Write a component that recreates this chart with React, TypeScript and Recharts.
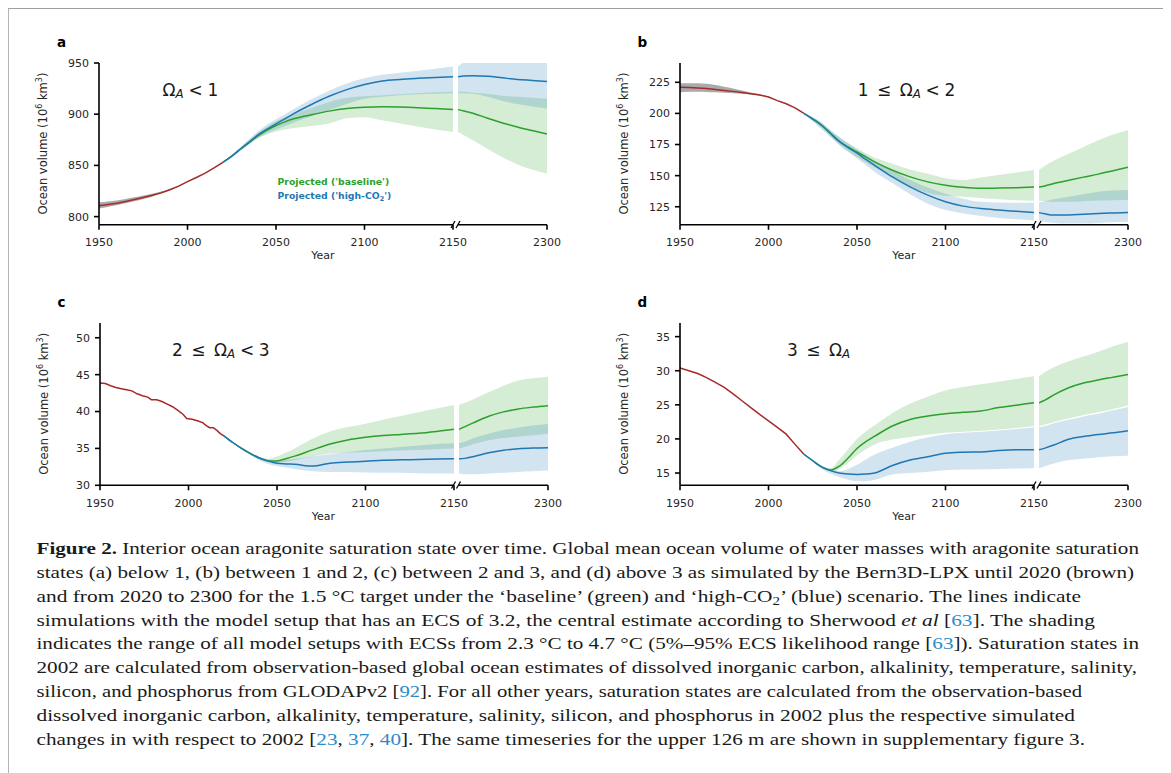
import React from 'react';
import { ComposedChart, Line, Area, XAxis, YAxis } from 'recharts';

// ---------- DATA ----------
const HIST_YEARS = [1950, 1955, 1960, 1965, 1970, 1975, 1980, 1985, 1990, 1995, 2000, 2005, 2010, 2015, 2020];
const C_HIST_YEARS = [1950, 1953, 1956, 1959, 1962, 1965, 1968, 1971, 1974, 1977, 1979, 1982, 1985, 1988, 1991, 1994, 1997, 1999, 2002, 2005, 2008, 2010, 2012, 2014, 2016, 2018, 2020];
const PROJ_YEARS = [2020, 2025, 2030, 2035, 2040, 2045, 2050, 2055, 2060, 2070, 2080, 2090, 2100, 2110, 2120, 2130, 2140, 2150, 2160, 2175, 2200, 2225, 2250, 2275, 2300];

const X_TICKS_LEFT = [1950, 2000, 2050, 2100, 2150];
const X_TICKS_RIGHT = [2300];

// panel a : Omega_A < 1
const A_HIST = [810.7, 811.8, 813.0, 814.8, 816.7, 818.7, 820.8, 823.2, 826.2, 829.8, 834.2, 838.2, 842.5, 847.5, 853.0];
const A_HIST_LO = [808.0, 809.5, 811.0, 813.0, 815.0, 817.2, 819.5, 822.3, 825.5, 829.3, 834.0, 838.2, 842.5, 847.5, 853.0];
const A_HIST_HI = [814.0, 814.8, 815.8, 817.2, 818.8, 820.5, 822.3, 824.4, 827.0, 830.3, 834.4, 838.2, 842.5, 847.5, 853.0];
const A_BASE = [853, 859, 866, 872.5, 879, 884.5, 889, 892.5, 895.5, 899.5, 903, 905.5, 906.8, 907.2, 907, 906.4, 905.5, 904.5, 903.2, 901, 896, 891.5, 887.5, 884, 880.7];
const A_BASE_LO = [853, 858, 864.5, 871, 876.5, 880.5, 883, 885, 886.5, 888.5, 891, 896, 897, 894, 891, 888, 885, 882.5, 879.5, 874.5, 866, 858, 851, 846, 842];
const A_BASE_HI = [853, 860, 867.5, 875, 882, 888, 893, 897, 900, 906, 912, 916, 917.5, 918.5, 919.5, 920.5, 921.5, 922, 922, 921, 920, 918, 917, 916, 915];
const A_HIGH = [853, 859, 866, 873, 880, 885.5, 890.5, 895.5, 900.5, 909.5, 917.5, 924, 929, 932.5, 934, 935, 935.8, 936.5, 937.3, 937.5, 937, 935.5, 934, 933, 932];
const A_HIGH_LO = [853, 858, 864.5, 871, 877, 881.5, 885, 888.5, 892, 898, 904, 910, 915, 917, 918.5, 919.5, 920, 920.5, 920.5, 920, 917, 913, 910, 907.5, 905.5];
const A_HIGH_HI = [853, 860.5, 868, 876, 883.5, 890, 895, 900, 905, 914.5, 923, 930, 935, 938.5, 940.5, 942.5, 944.5, 946.5, 950, 950, 950, 950, 950, 950, 950];
const A_Y_TICKS = [800, 850, 900, 950];

// panel b : 1 <= Omega_A < 2
const B_HIST = [221.0, 220.8, 220.5, 220.0, 219.3, 218.5, 217.7, 216.8, 215.8, 214.8, 213.2, 210.3, 207.8, 204.5, 200.0];
const B_HIST_LO = [217.0, 217.3, 217.4, 217.2, 216.9, 216.6, 216.2, 215.7, 215.1, 214.3, 213.0, 210.3, 207.8, 204.5, 200.0];
const B_HIST_HI = [224.2, 224.2, 224.2, 223.8, 222.8, 221.4, 220.0, 218.4, 216.8, 215.4, 213.5, 210.3, 207.8, 204.5, 200.0];
const B_BASE = [200, 195.5, 190.5, 184, 177.5, 173, 169, 165, 161, 154.3, 149, 145, 142.3, 140.6, 139.8, 140, 140.3, 140.8, 141.7, 143.7, 146.3, 148.8, 151.2, 154, 156.8];
const B_BASE_LO = [200, 194, 188, 181.5, 175, 169.5, 165, 160.5, 156.5, 149.5, 141.5, 136, 133.8, 133, 132, 131, 130.2, 129.8, 129.5, 129, 129, 129.5, 130, 130.3, 130.5];
const B_BASE_HI = [200, 197, 192.5, 186.5, 181, 176, 172, 168, 164.5, 159.5, 155, 151.5, 148, 146.5, 148.5, 150.5, 152.5, 154.5, 158, 162, 167.5, 173, 178.5, 183, 186.5];
const B_HIGH = [200, 195.5, 190.5, 184, 177.5, 172.5, 168, 163, 158.3, 149, 141, 134.3, 129, 125.5, 123.5, 122.3, 121.3, 120.3, 119.3, 118.3, 118.4, 119, 119.6, 120, 120.3];
const B_HIGH_LO = [200, 193.5, 187.5, 181, 174.5, 169, 164, 158.5, 153, 144, 135, 127.5, 122.5, 119.5, 117.5, 116, 115, 114, 113, 112, 111.5, 111.5, 112, 112.5, 113];
const B_HIGH_HI = [200, 197, 192.5, 186.5, 181, 176, 171, 166.5, 162, 154, 146.5, 140.5, 135.5, 131.5, 129, 128.5, 128.3, 128.5, 129.5, 131, 133, 135, 137, 138, 138.5];
const B_Y_TICKS = [125, 150, 175, 200, 225];

// panel c : 2 <= Omega_A < 3
const C_HIST = [43.86, 43.8, 43.5, 43.25, 43.1, 42.95, 42.8, 42.4, 42.15, 41.95, 41.6, 41.6, 41.35, 41.0, 40.65, 40.15, 39.6, 39.05, 38.95, 38.75, 38.5, 38.1, 37.8, 37.8, 37.45, 37.0, 36.7];
const C_BASE = [36.7, 35.8, 35.0, 34.3, 33.7, 33.3, 33.3, 33.6, 33.95, 34.8, 35.6, 36.15, 36.5, 36.75, 36.9, 37.05, 37.3, 37.6, 37.95, 38.5, 39.35, 39.95, 40.35, 40.6, 40.8];
const C_BASE_LO = [36.7, 35.75, 34.9, 34.2, 33.5, 33.2, 33.1, 33.2, 33.4, 33.9, 34.3, 34.45, 34.5, 34.6, 34.7, 34.8, 34.9, 35.0, 35.2, 35.6, 36.1, 36.4, 36.6, 36.8, 37.0];
const C_BASE_HI = [36.7, 35.85, 35.1, 34.4, 33.8, 33.6, 33.9, 34.4, 35.0, 36.3, 37.3, 37.9, 38.35, 38.9, 39.4, 39.9, 40.4, 40.9, 41.2, 41.7, 42.6, 43.5, 44.2, 44.5, 44.7];
const C_HIGH = [36.7, 35.8, 35.0, 34.3, 33.7, 33.3, 33.0, 32.9, 32.85, 32.6, 33.0, 33.15, 33.25, 33.4, 33.45, 33.5, 33.55, 33.6, 33.65, 33.9, 34.4, 34.75, 34.95, 35.05, 35.1];
const C_HIGH_LO = [36.7, 35.75, 34.9, 34.1, 33.4, 32.9, 32.6, 32.4, 32.2, 31.9, 31.8, 31.8, 31.75, 31.7, 31.7, 31.65, 31.6, 31.6, 31.5, 31.5, 31.6, 31.7, 31.8, 31.9, 32.0];
const C_HIGH_HI = [36.7, 35.85, 35.1, 34.4, 33.8, 33.5, 33.4, 33.5, 33.6, 33.9, 34.2, 34.5, 34.8, 35.0, 35.2, 35.4, 35.6, 35.7, 35.9, 36.4, 37.0, 37.5, 37.8, 38.1, 38.3];
const C_Y_TICKS = [30, 35, 40, 45, 50];

// panel d : 3 <= Omega_A
const D_HIST = [30.4, 30.0, 29.6, 29.0, 28.3, 27.55, 26.6, 25.6, 24.6, 23.6, 22.65, 21.7, 20.7, 19.2, 17.75];
const D_BASE = [17.75, 16.8, 15.9, 15.45, 16.0, 17.2, 18.6, 19.6, 20.4, 21.9, 22.85, 23.35, 23.7, 23.9, 24.1, 24.6, 24.95, 25.3, 25.7, 26.45, 27.5, 28.2, 28.65, 29.05, 29.45];
const D_BASE_LO = [17.75, 16.75, 15.8, 15.2, 15.6, 16.5, 17.6, 18.5, 19.2, 19.9, 20.3, 20.6, 20.9, 21.05, 21.2, 21.4, 21.6, 21.9, 22.1, 22.5, 23.0, 23.5, 23.9, 24.4, 24.9];
const D_BASE_HI = [17.75, 16.85, 16.0, 15.7, 17.0, 18.5, 20.0, 21.1, 22.0, 23.8, 25.2, 26.2, 27.1, 27.6, 28.0, 28.4, 28.8, 29.2, 29.8, 30.5, 31.4, 32.1, 32.8, 33.6, 34.2];
const D_HIGH = [17.75, 16.8, 15.9, 15.35, 15.0, 14.85, 14.8, 14.85, 15.0, 16.1, 16.9, 17.4, 17.9, 18.05, 18.1, 18.3, 18.4, 18.4, 18.65, 19.1, 19.95, 20.35, 20.65, 20.9, 21.2];
const D_HIGH_LO = [17.75, 16.7, 15.6, 14.9, 14.4, 14.0, 13.8, 13.8, 14.0, 14.8, 15.0, 15.2, 15.4, 15.5, 15.55, 15.6, 15.65, 15.7, 16.0, 16.4, 16.9, 17.1, 17.3, 17.45, 17.55];
const D_HIGH_HI = [17.75, 16.9, 16.0, 15.6, 15.3, 15.6, 16.2, 17.0, 17.7, 18.7, 19.6, 20.2, 20.7, 20.9, 21.05, 21.25, 21.45, 21.7, 21.9, 22.3, 22.8, 23.3, 23.7, 24.2, 24.7];
const D_Y_TICKS = [15, 20, 25, 30, 35];

// ---------- STYLE ----------
const C_HISTC = '#a52a2a';
const C_GREEN = '#2ca02c';
const C_BLUE = '#1f77b4';
const AXIS_STYLE = { stroke: '#000', strokeWidth: 1.6 };
const TICK_STYLE = { fontSize: 11, fontFamily: 'DejaVu Sans', fill: '#262626' };
const LEFT_W = 354;
const GAP = 5;
const RIGHT_W = 89;
const BREAK = 2150;

type Row = { year: number; v: number; band?: [number, number] };
const mk = (years: number[], v: number[], lo?: number[], hi?: number[]): Row[] =>
  years.map((year, i) => ({ year, v: v[i], band: lo && hi ? [lo[i], hi[i]] as [number, number] : undefined }));

type PanelDef = {
  letter: string;
  plotLeft: number;
  plotTop: number;
  plotBottom: number;
  yDomain: [number, number];
  yTicks: number[];
  hist: Row[];
  histBand: boolean;
  base: Row[];
  high: Row[];
};

const PANELS: PanelDef[] = [
  {
    letter: 'a', plotLeft: 99, plotTop: 62.7, plotBottom: 224.5, yDomain: [792, 950], yTicks: A_Y_TICKS,
    hist: mk(HIST_YEARS, A_HIST, A_HIST_LO, A_HIST_HI), histBand: true,
    base: mk(PROJ_YEARS, A_BASE, A_BASE_LO, A_BASE_HI), high: mk(PROJ_YEARS, A_HIGH, A_HIGH_LO, A_HIGH_HI),
  },
  {
    letter: 'b', plotLeft: 680, plotTop: 62.7, plotBottom: 224.5, yDomain: [110.5, 240.5], yTicks: B_Y_TICKS,
    hist: mk(HIST_YEARS, B_HIST, B_HIST_LO, B_HIST_HI), histBand: true,
    base: mk(PROJ_YEARS, B_BASE, B_BASE_LO, B_BASE_HI), high: mk(PROJ_YEARS, B_HIGH, B_HIGH_LO, B_HIGH_HI),
  },
  {
    letter: 'c', plotLeft: 99.5, plotTop: 322.7, plotBottom: 485, yDomain: [30, 52], yTicks: C_Y_TICKS,
    hist: mk(C_HIST_YEARS, C_HIST), histBand: false,
    base: mk(PROJ_YEARS, C_BASE, C_BASE_LO, C_BASE_HI), high: mk(PROJ_YEARS, C_HIGH, C_HIGH_LO, C_HIGH_HI),
  },
  {
    letter: 'd', plotLeft: 680, plotTop: 322.7, plotBottom: 485, yDomain: [13.2, 37], yTicks: D_Y_TICKS,
    hist: mk(HIST_YEARS, D_HIST), histBand: false,
    base: mk(PROJ_YEARS, D_BASE, D_BASE_LO, D_BASE_HI), high: mk(PROJ_YEARS, D_HIGH, D_HIGH_LO, D_HIGH_HI),
  },
];

type SegProps = {
  left: number; top: number; plotW: number; plotH: number;
  xDomain: [number, number]; xTicks: number[];
  yDomain: [number, number]; yTicks: number[];
  withY: boolean; hist: Row[]; histBand: boolean; base: Row[]; high: Row[];
};

function Seg(p: SegProps) {
  const YW = p.withY ? 52 : 0;
  const LM = p.withY ? 0 : 2;
  const TM = 8;
  const XH = 40;
  const RM = 24;
  const W = LM + YW + p.plotW + RM;
  const H = TM + p.plotH + XH;
  return (
    <div style={{ position: 'absolute', left: p.left - YW - LM - 8, top: p.top - TM - 8, width: W, height: H }}>
      <ComposedChart width={W} height={H} margin={{ top: TM, right: RM, bottom: 0, left: LM }}>
        <XAxis type="number" dataKey="year" domain={p.xDomain} ticks={p.xTicks} interval={0} allowDataOverflow
          height={XH} tickSize={5} tickMargin={8.5} axisLine={AXIS_STYLE} tickLine={AXIS_STYLE} tick={TICK_STYLE} />
        <YAxis type="number" domain={p.yDomain} ticks={p.yTicks} interval={0} allowDataOverflow width={YW}
          hide={!p.withY} tickSize={5} tickMargin={5} axisLine={AXIS_STYLE} tickLine={AXIS_STYLE} tick={TICK_STYLE} />
        {p.histBand && p.hist.length > 0 && (
          <Area data={p.hist} dataKey="band" type="monotone" stroke="none" fill="#555" fillOpacity={0.5} isAnimationActive={false} />
        )}
        {p.base.length > 0 && (
          <Area data={p.base} dataKey="band" type="monotone" stroke="none" fill={C_GREEN} fillOpacity={0.2} isAnimationActive={false} />
        )}
        {p.high.length > 0 && (
          <Area data={p.high} dataKey="band" type="monotone" stroke="none" fill={C_BLUE} fillOpacity={0.2} isAnimationActive={false} />
        )}
        {p.hist.length > 0 && (
          <Line data={p.hist} dataKey="v" type="linear" stroke={C_HISTC} strokeWidth={1.5} dot={false} activeDot={false} isAnimationActive={false} />
        )}
        {p.base.length > 0 && (
          <Line data={p.base} dataKey="v" type="monotone" stroke={C_GREEN} strokeWidth={1.5} dot={false} activeDot={false} isAnimationActive={false} />
        )}
        {p.high.length > 0 && (
          <Line data={p.high} dataKey="v" type="monotone" stroke={C_BLUE} strokeWidth={1.5} dot={false} activeDot={false} isAnimationActive={false} />
        )}
      </ComposedChart>
    </div>
  );
}

function PanelCharts({ d }: { d: PanelDef }) {
  const plotH = d.plotBottom - d.plotTop;
  const leftRows = (rows: Row[]) => rows.filter((r) => r.year <= BREAK);
  const rightRows = (rows: Row[]) => rows.filter((r) => r.year >= BREAK);
  return (
    <>
      <Seg left={d.plotLeft} top={d.plotTop} plotW={LEFT_W} plotH={plotH} xDomain={[1950, 2150]} xTicks={X_TICKS_LEFT}
        yDomain={d.yDomain} yTicks={d.yTicks} withY hist={leftRows(d.hist)} histBand={d.histBand}
        base={leftRows(d.base)} high={leftRows(d.high)} />
      <Seg left={d.plotLeft + LEFT_W + GAP} top={d.plotTop} plotW={RIGHT_W} plotH={plotH} xDomain={[2150, 2300]} xTicks={X_TICKS_RIGHT}
        yDomain={d.yDomain} yTicks={d.yTicks} withY={false} hist={rightRows(d.hist)} histBand={d.histBand}
        base={rightRows(d.base)} high={rightRows(d.high)} />
    </>
  );
}

const MATH_FONT = { fontFamily: 'DejaVu Sans', fontSize: 17, fill: '#1a1a1a' };
const LINK = '#2b8ccc';

function Overlay() {
  const ylabel = (bx: number, cy: number) => (
    <text transform={`translate(${bx},${cy}) rotate(-90)`} textAnchor="middle" fontFamily="DejaVu Sans" fontSize={11.5} fill="#262626">
      Ocean volume (10<tspan fontSize={8} dy={-4.2}>6</tspan><tspan dy={4.2}> km</tspan><tspan fontSize={8} dy={-4.2}>3</tspan><tspan dy={4.2}>)</tspan>
    </text>
  );
  const breakMarks = (d: PanelDef) => {
    const xs = [d.plotLeft + LEFT_W, d.plotLeft + LEFT_W + GAP];
    return xs.map((x, i) => (
      <line key={d.letter + i} x1={x - 2} y1={d.plotBottom + 3.5} x2={x + 2} y2={d.plotBottom - 3.5} stroke="#000" strokeWidth={1.3} />
    ));
  };
  const year = (d: PanelDef) => (
    <text x={(d.plotLeft + d.plotLeft + LEFT_W + GAP + RIGHT_W) / 2} y={d.plotBottom + 34.5} textAnchor="middle" fontFamily="DejaVu Sans" fontSize={11} fill="#262626">Year</text>
  );
  const sub = (s: string) => <tspan fontStyle="italic" fontSize={11.9} dy={2.5}>{s}</tspan>;
  const capX = 36.5;
  const capY0 = 554;
  const capDY = 23.85;
  const capEnds = [1139, 1134, 1081, 1095, 1139, 1137, 1082, 1075, 1085];
  const capLines: React.ReactNode[] = [
    <><tspan fontWeight="bold">Figure 2.</tspan>{' Interior ocean aragonite saturation state over time. Global mean ocean volume of water masses with aragonite saturation'}</>,
    <>{'states (a) below 1, (b) between 1 and 2, (c) between 2 and 3, and (d) above 3 as simulated by the Bern3D-LPX until 2020 (brown)'}</>,
    <>{'and from 2020 to 2300 for the 1.5 °C target under the ‘baseline’ (green) and ‘high-CO'}<tspan fontSize={12} dy={3}>2</tspan><tspan dy={-3}>{'’ (blue) scenario. The lines indicate'}</tspan></>,
    <>{'simulations with the model setup that has an ECS of 3.2, the central estimate according to Sherwood '}<tspan fontStyle="italic">et al</tspan>{' ['}<tspan fill={LINK}>63</tspan>{']. The shading'}</>,
    <>{'indicates the range of all model setups with ECSs from 2.3 °C to 4.7 °C (5%–95% ECS likelihood range ['}<tspan fill={LINK}>63</tspan>{']). Saturation states in'}</>,
    <>{'2002 are calculated from observation-based global ocean estimates of dissolved inorganic carbon, alkalinity, temperature, salinity,'}</>,
    <>{'silicon, and phosphorus from GLODAPv2 ['}<tspan fill={LINK}>92</tspan>{']. For all other years, saturation states are calculated from the observation-based'}</>,
    <>{'dissolved inorganic carbon, alkalinity, temperature, salinity, silicon, and phosphorus in 2002 plus the respective simulated'}</>,
    <>{'changes in with respect to 2002 ['}<tspan fill={LINK}>23</tspan>{', '}<tspan fill={LINK}>37</tspan>{', '}<tspan fill={LINK}>40</tspan>{']. The same timeseries for the upper 126 m are shown in supplementary figure 3.'}</>,
  ];
  return (
    <svg width={1163} height={765} style={{ position: 'absolute', left: 0, top: 0, pointerEvents: 'none' }}>
      <g transform="translate(-8,-8)">
        {/* panel letters */}
        <text x={57} y={47} fontFamily="DejaVu Sans" fontWeight="bold" fontSize={13.5} fill="#000">a</text>
        <text x={637.5} y={47} fontFamily="DejaVu Sans" fontWeight="bold" fontSize={13.5} fill="#000">b</text>
        <text x={57.5} y={307} fontFamily="DejaVu Sans" fontWeight="bold" fontSize={13.5} fill="#000">c</text>
        <text x={637.5} y={307} fontFamily="DejaVu Sans" fontWeight="bold" fontSize={13.5} fill="#000">d</text>

        {/* annotations */}
        <text x={162.6} y={95.7} {...MATH_FONT}>Ω{sub('A')}<tspan dy={-2.5} dx={4.7}>&lt;</tspan><tspan dx={4.7}>1</tspan></text>
        <text x={857.7} y={95.7} {...MATH_FONT}>1<tspan dx={8.5}>≤</tspan><tspan dx={8.5}>Ω</tspan>{sub('A')}<tspan dy={-2.5} dx={4.7}>&lt;</tspan><tspan dx={4.7}>2</tspan></text>
        <text x={172} y={355.7} {...MATH_FONT}>2<tspan dx={8.5}>≤</tspan><tspan dx={8.5}>Ω</tspan>{sub('A')}<tspan dy={-2.5} dx={4.7}>&lt;</tspan><tspan dx={4.7}>3</tspan></text>
        <text x={787} y={355.7} {...MATH_FONT}>3<tspan dx={8.5}>≤</tspan><tspan dx={8.5}>Ω</tspan>{sub('A')}</text>

        {/* legend text in panel a */}
        <text x={277.5} y={185} fontFamily="DejaVu Sans" fontWeight="bold" fontSize={9.3} fill={C_GREEN}>Projected ('baseline')</text>
        <text x={277.5} y={199} fontFamily="DejaVu Sans" fontWeight="bold" fontSize={9.3} fill={C_BLUE}>Projected ('high-CO<tspan fontSize={6.5} dy={2}>2</tspan><tspan dy={-2}>')</tspan></text>

        {/* axis labels */}
        {ylabel(46.5, (62.7 + 224.5) / 2)}
        {ylabel(627.5, (62.7 + 224.5) / 2)}
        {ylabel(47.5, (322.7 + 485) / 2)}
        {ylabel(627.5, (322.7 + 485) / 2)}
        {PANELS.map((d) => <g key={'y' + d.letter}>{year(d)}</g>)}
        {PANELS.map((d) => <g key={'b' + d.letter}>{breakMarks(d)}</g>)}

        {/* caption */}
        {capLines.map((ln, i) => (
          <text key={i} x={capX} y={capY0 + i * capDY} fontFamily="Liberation Serif" fontSize={17} fill="#1a1a1a"
            textLength={capEnds[i] - capX} lengthAdjust="spacingAndGlyphs">{ln}</text>
        ))}
      </g>
    </svg>
  );
}

export default function App() {
  return (
    <div style={{ position: 'relative', width: 1163, height: 765 }}>
      <style>{'body{overflow:hidden}'}</style>
      <div style={{
        position: 'absolute', left: 0, top: 0, width: 1157, height: 765, boxSizing: 'border-box',
        borderTop: '1px solid #a0a0a0', borderLeft: '1px solid #b4b4b4', borderRight: '2px solid #cdcdcd',
      }} />
      {PANELS.map((d) => <PanelCharts key={d.letter} d={d} />)}
      <Overlay />
    </div>
  );
}
